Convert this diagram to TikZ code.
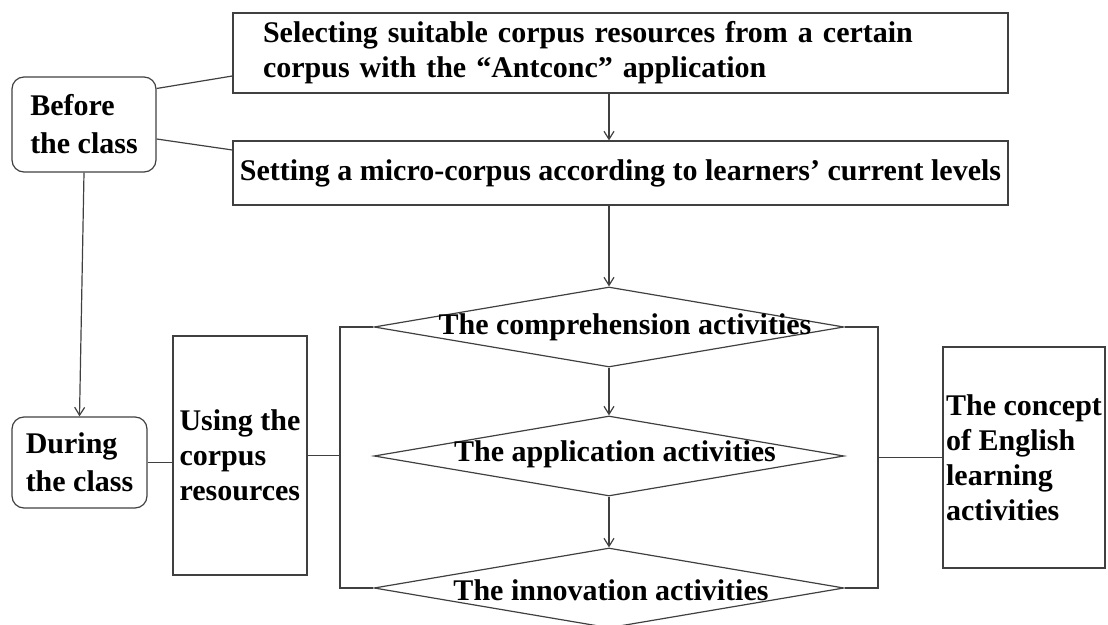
\documentclass[tikz,border=0pt]{standalone}
\usepackage{fontspec}
\setmainfont{Liberation Serif}
\usepackage{tikz}
\usetikzlibrary{shapes.geometric, arrows.meta, calc}
\tikzset{
    phase/.style={draw=black!75, line width=0.6pt, rounded corners=6pt, align=left, font=\bfseries\fontsize{15}{19}\selectfont, inner sep=0pt},
    taskbox/.style={draw=black!75, line width=0.6pt, font=\bfseries\fontsize{15}{17.5}\selectfont, inner sep=0pt},
    activity/.style={diamond, draw=black!75, line width=0.6pt, minimum width=235pt, minimum height=40pt, inner sep=0pt},
    tag/.style={font=\bfseries\fontsize{15}{18}\selectfont},
    flow/.style={draw=black!75, line width=0.6pt, -{Straight Barb[length=4pt, width=5pt]}},
    link/.style={draw=black!75, line width=0.6pt}
}

\begin{document}
\begin{tikzpicture}[x=0.5pt, y=-0.5pt]
    \useasboundingbox (0,0) rectangle (1108,625);
    \clip (0,0) rectangle (1108,625);
    \node[taskbox, minimum width=387.5pt, minimum height=40pt, text width=357.5pt, inner xsep=15pt, align=left] (sel) at (620.5,53) {Selecting suitable corpus resources from a certain\\corpus with the “Antconc” application};
    \node[taskbox, minimum width=387.5pt, minimum height=32pt] (micro) at (620.5,173) {Setting a micro-corpus according to learners’ current levels};
    \node[phase, minimum width=72pt, minimum height=47.5pt] (before) at (84,124.5) {Before\\the class};
    \node[phase, minimum width=67.5pt, minimum height=45.5pt] (during) at (79.5,462.5) {During\\the class};
    \node[taskbox, minimum width=67pt, minimum height=119.5pt, align=left] (using) at (240,455.5) {Using the\\corpus\\resources};
    \node[taskbox, minimum width=81pt, minimum height=110.5pt, align=left] (concept) at (1024,457.5) {The concept\\of English\\learning\\activities};
    \node[activity, label={[tag, xshift=8pt]center:The comprehension activities}] (comp) at (609,327) {};
    \node[activity, label={[tag, xshift=3pt, yshift=1pt]center:The application activities}] (appl) at (609,456) {};
    \node[activity, label={[tag, xshift=1pt, yshift=-1pt]center:The innovation activities}] (innov) at (609,588) {};
    \coordinate (lbar) at (340,0);
    \coordinate (rbar) at (878,0);
    \draw[link] ([yshift=18pt]before.east) -- ([yshift=-11.5pt]sel.west);
    \draw[link] ([yshift=-7.25pt]before.east) -- ([yshift=11.5pt]micro.west);
    \draw[flow] (before.south) -- (during.north);
    \draw[flow] (sel.south -| comp.north) -- (micro.north -| comp.north);
    \draw[flow] (micro.south -| comp.north) -- (comp.north);
    \draw[flow] (comp.south) -- (appl.north);
    \draw[flow] (appl.south) -- (innov.north);
    \draw[link] (during.east) -- (using.west |- during.east);
    \draw[link] (using.east) -- (using.east -| lbar);
    \draw[link] (comp.west) -- (comp.west -| lbar) -- (innov.west -| lbar) -- (innov.west);
    \draw[link] (comp.east) -- (comp.east -| rbar) -- (innov.east -| rbar) -- (innov.east);
    \draw[link] (concept.west -| rbar) -- (concept.west);
\end{tikzpicture}
\end{document}
